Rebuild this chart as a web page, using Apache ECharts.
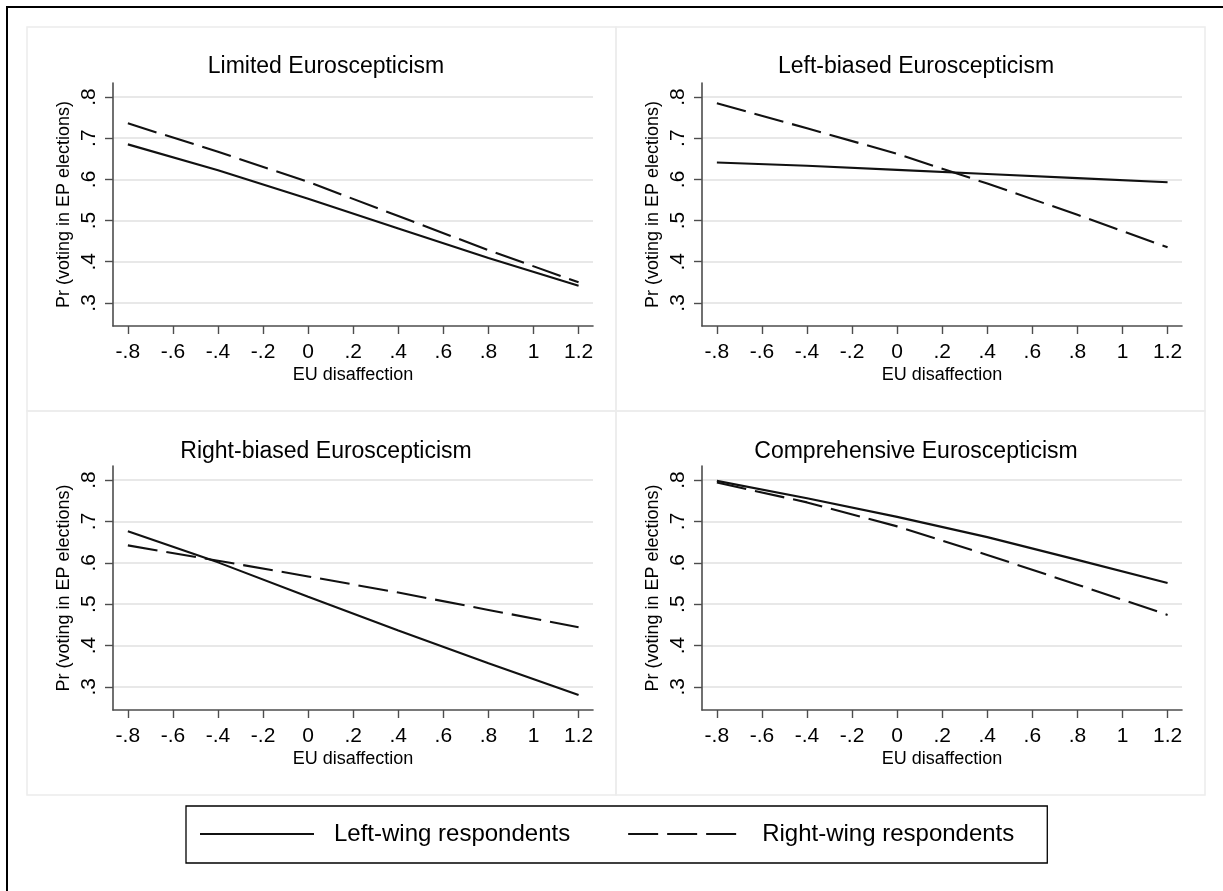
<!DOCTYPE html>
<html>
<head>
<meta charset="utf-8">
<script src="https://cdn.jsdelivr.net/npm/echarts@6/dist/echarts.min.js"></script>
<style>
html,body{margin:0;padding:0;background:#fff;}
#chart{width:1223px;height:891px;}
</style>
</head>
<body>
<div id="chart"></div>
<script>
// ---- data ----
const panelTitles = ['Limited Euroscepticism', 'Left-biased Euroscepticism', 'Right-biased Euroscepticism', 'Comprehensive Euroscepticism'];
const seriesNames = ['Left-wing respondents', 'Right-wing respondents'];
const xPoints = [-0.8, -0.4, 0, 0.4, 0.8, 1.2];
const xTicks = [-0.8, -0.6, -0.4, -0.2, 0, 0.2, 0.4, 0.6, 0.8, 1, 1.2];
const xTickLabels = ['-.8', '-.6', '-.4', '-.2', '0', '.2', '.4', '.6', '.8', '1', '1.2'];
const yTicks = [0.3, 0.4, 0.5, 0.6, 0.7, 0.8];
const yTickLabels = ['.3', '.4', '.5', '.6', '.7', '.8'];
const xAxisTitle = 'EU disaffection';
const yAxisTitle = 'Pr (voting in EP elections)';

const limitedLeft  = [0.685, 0.622, 0.553, 0.481, 0.409, 0.342];
const limitedRight = [0.736, 0.667, 0.594, 0.511, 0.428, 0.350];
const leftBiasedLeft  = [0.641, 0.633, 0.623, 0.613, 0.603, 0.593];
const leftBiasedRight = [0.785, 0.724, 0.662, 0.590, 0.514, 0.435];
const rightBiasedLeft  = [0.676, 0.601, 0.518, 0.436, 0.357, 0.280];
const rightBiasedRight = [0.642, 0.605, 0.567, 0.528, 0.486, 0.444];
const comprehensiveLeft  = [0.798, 0.756, 0.711, 0.662, 0.607, 0.551];
const comprehensiveRight = [0.794, 0.746, 0.688, 0.619, 0.547, 0.474];

const panelData = [
  [limitedLeft, limitedRight],
  [leftBiasedLeft, leftBiasedRight],
  [rightBiasedLeft, rightBiasedRight],
  [comprehensiveLeft, comprehensiveRight]
];

// ---- layout / style ----
const FONT = "'Liberation Sans', Arial, Helvetica, sans-serif";
const gridPos = [
  {left: 113, top: 83, width: 480, height: 243},
  {left: 702, top: 83, width: 480, height: 243},
  {left: 113, top: 466, width: 480, height: 244},
  {left: 702, top: 466, width: 480, height: 244}
];
const titlePos = [
  {left: 321, top: 50},
  {left: 911, top: 50},
  {left: 321, top: 435},
  {left: 911, top: 435}
];
const AXIS_COLOR = '#4d4d4d';

function lookup(ticks, labels, v) {
  const i = ticks.findIndex(t => Math.abs(t - v) < 1e-6);
  return i >= 0 ? labels[i] : '';
}

const grids = gridPos.map(g => Object.assign({containLabel: false}, g));
const xAxes = [], yAxes = [], series = [], titles = [];

panelTitles.forEach((t, i) => {
  titles.push({
    text: t, left: titlePos[i].left, top: titlePos[i].top, textAlign: 'center',
    textStyle: {fontFamily: FONT, fontSize: 23, fontWeight: 'normal', color: '#000'}
  });
  xAxes.push({
    type: 'value', gridIndex: i, min: -0.866, max: 1.264,
    name: xAxisTitle, nameLocation: 'middle', nameGap: 40,
    nameTextStyle: {fontFamily: FONT, fontSize: 18, color: '#000'},
    axisLine: {show: true, onZero: false, lineStyle: {color: AXIS_COLOR, width: 1.6}},
    axisTick: {show: true, length: 8, customValues: xTicks, lineStyle: {color: AXIS_COLOR, width: 1.4}},
    axisLabel: {show: true, customValues: xTicks, margin: 16, fontFamily: FONT, fontSize: 21, color: '#000',
      formatter: v => lookup(xTicks, xTickLabels, v)},
    splitLine: {show: false}
  });
  yAxes.push({
    type: 'value', gridIndex: i, min: 0.244, max: 0.834,
    name: yAxisTitle, nameLocation: 'middle', nameGap: 40, nameRotate: 90,
    nameTextStyle: {fontFamily: FONT, fontSize: 18, color: '#000'},
    axisLine: {show: true, onZero: false, lineStyle: {color: AXIS_COLOR, width: 1.6}},
    axisTick: {show: true, length: 8, customValues: yTicks, lineStyle: {color: AXIS_COLOR, width: 1.4}},
    axisLabel: {show: true, customValues: yTicks, rotate: 90, margin: 13, fontFamily: FONT, fontSize: 21, color: '#000',
      formatter: v => lookup(yTicks, yTickLabels, v)},
    splitLine: {show: true, lineStyle: {color: '#e8e8e8', width: 2}}
  });
  panelData[i].forEach((vals, k) => {
    series.push({
      type: 'line', name: seriesNames[k], xAxisIndex: i, yAxisIndex: i,
      data: xPoints.map((x, j) => [x, vals[j]]),
      showSymbol: false, symbol: 'none', silent: true,
      lineStyle: {color: '#111', width: 2.1, type: k === 0 ? 'solid' : [30, 9]},
      itemStyle: {color: '#111'}
    });
  });
});

const chart = echarts.init(document.getElementById('chart'), null, {renderer: 'canvas'});
chart.setOption({
  animation: false,
  backgroundColor: '#fff',
  title: titles,
  grid: grids,
  xAxis: xAxes,
  yAxis: yAxes,
  series: series,
  legend: {
    data: seriesNames, left: 186, top: 806, orient: 'horizontal',
    itemWidth: 114, itemHeight: 16, itemGap: 57,
    padding: [16, 33, 17, 13],
    borderColor: '#000', borderWidth: 1.3,
    selectedMode: false,
    itemStyle: {opacity: 0, color: 'rgba(0,0,0,0)', borderWidth: 0},
    textStyle: {fontFamily: FONT, fontSize: 24, color: '#000', padding: [0, 0, 0, 15]}
  },
  graphic: [
    {type: 'rect', silent: true, z: -10, shape: {x: 7, y: 7, width: 1240, height: 920},
      style: {fill: 'none', stroke: '#000', lineWidth: 2}},
    {type: 'rect', silent: true, z: -10, shape: {x: 27, y: 27, width: 589, height: 384}, style: {fill: 'none', stroke: '#ececec', lineWidth: 1.5}},
    {type: 'rect', silent: true, z: -10, shape: {x: 616, y: 27, width: 589, height: 384}, style: {fill: 'none', stroke: '#ececec', lineWidth: 1.5}},
    {type: 'rect', silent: true, z: -10, shape: {x: 27, y: 411, width: 589, height: 384}, style: {fill: 'none', stroke: '#ececec', lineWidth: 1.5}},
    {type: 'rect', silent: true, z: -10, shape: {x: 616, y: 411, width: 589, height: 384}, style: {fill: 'none', stroke: '#ececec', lineWidth: 1.5}}
  ]
});
</script>
</body>
</html>
